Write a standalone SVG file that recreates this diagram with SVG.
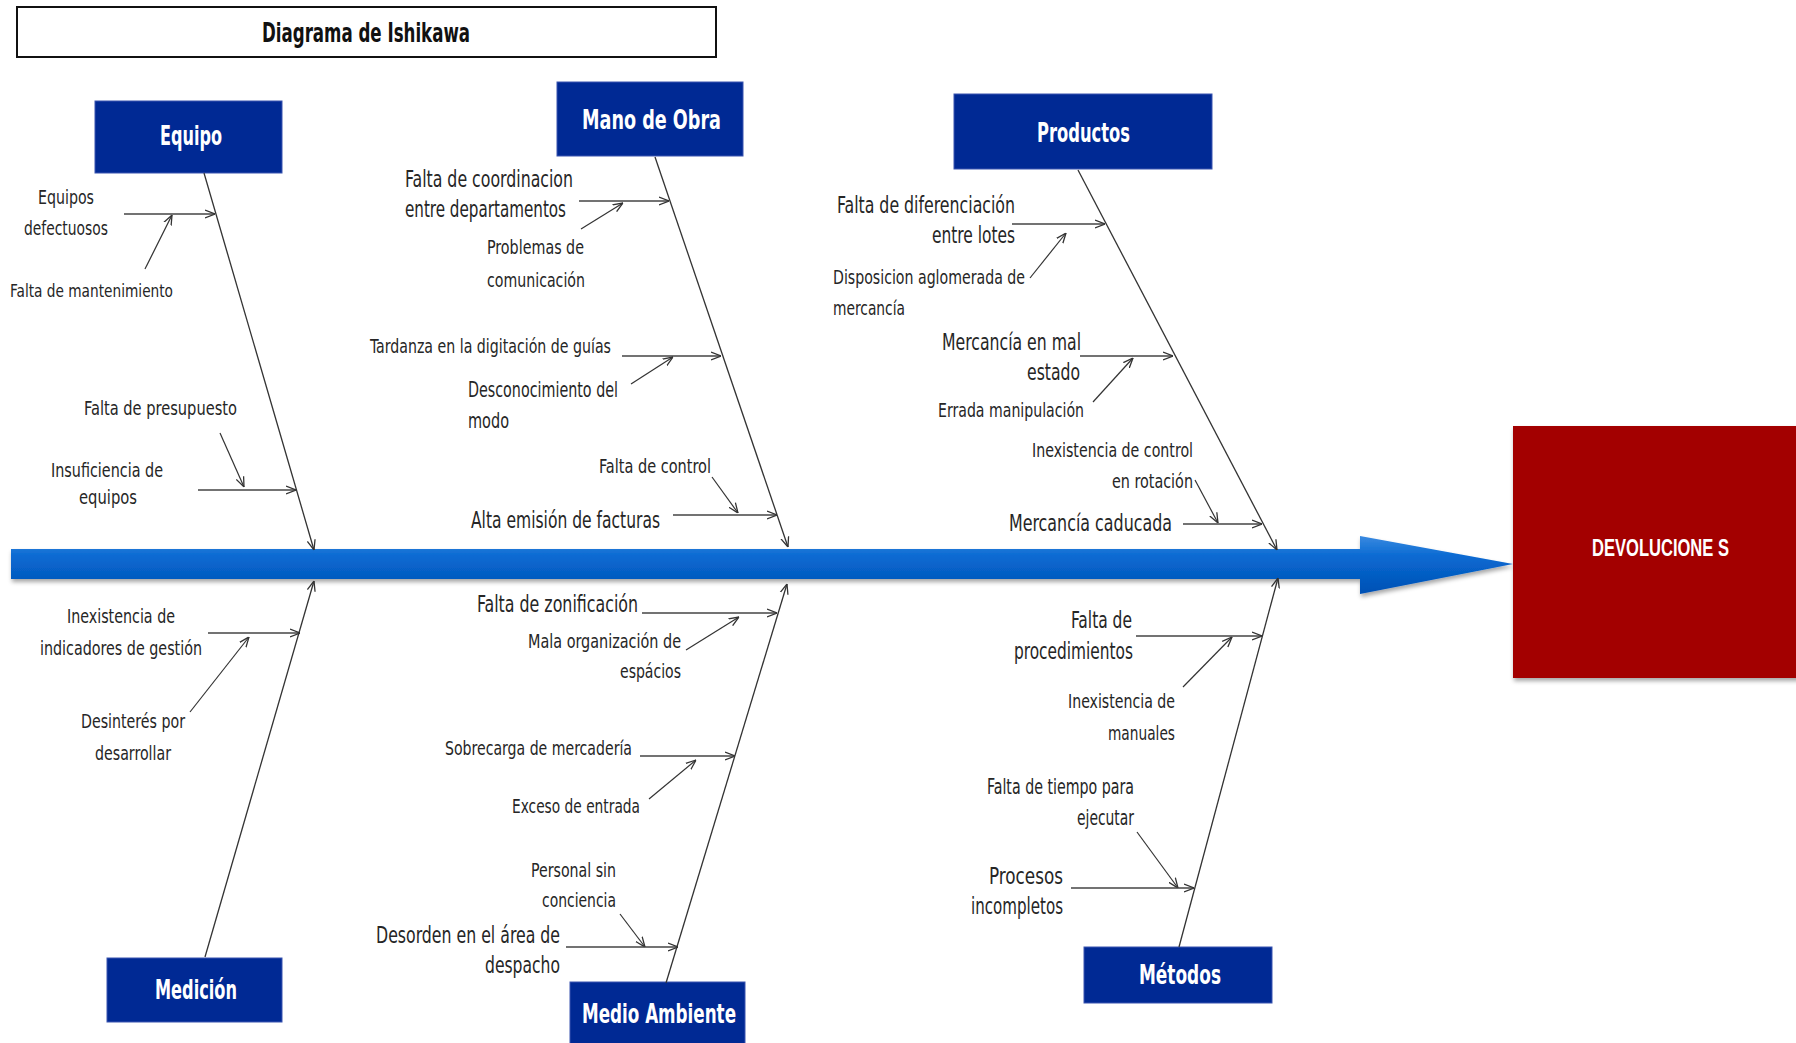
<svg xmlns="http://www.w3.org/2000/svg" width="1796" height="1043" viewBox="0 0 1796 1043">
  <defs>
    <linearGradient id="spineFill" x1="0" y1="0" x2="0" y2="1">
      <stop offset="0" stop-color="#3a8ae0"/>
      <stop offset="0.35" stop-color="#0a6ad2"/>
      <stop offset="1" stop-color="#0050b4"/>
    </linearGradient>
    <filter id="shadow" x="-5%" y="-20%" width="110%" height="150%">
      <feDropShadow dx="1" dy="3" stdDeviation="2" flood-color="#000" flood-opacity="0.35"/>
    </filter>
    <marker id="ah" viewBox="0 0 10 10" refX="10" refY="5" markerWidth="10" markerHeight="10" markerUnits="userSpaceOnUse" orient="auto">
      <path d="M0,1 L10,5 L0,9" fill="none" stroke="#333" stroke-width="1.3"/>
    </marker>
    <style>
      .cat { fill: #002994; stroke: #3a55b0; stroke-width: 1; }
      .catText { fill: #fff; font-family: "Liberation Sans Narrow", "DejaVu Sans Condensed", "Liberation Sans", sans-serif; font-weight: bold; }
      .lbl { fill: #262626; font-family: "Liberation Sans Narrow", "DejaVu Sans Condensed", "Liberation Sans", sans-serif; }
      .bone { fill: none; stroke: #333; stroke-width: 1.3; marker-end: url(#ah); }
      .sub { fill: none; stroke: #444; stroke-width: 1.5; marker-end: url(#ah); }
      .diag { fill: none; stroke: #333; stroke-width: 1.2; marker-end: url(#ah); }
    </style>
  </defs>

  <rect width="1796" height="1043" fill="#fff"/>

  <!-- title -->
  <g id="title">
    <rect x="17" y="7" width="699" height="50" fill="#fff" stroke="#111" stroke-width="2"/>
    <text x="262" y="42" font-size="26" font-weight="bold" fill="#111" font-family="Liberation Sans Narrow, DejaVu Sans Condensed, Liberation Sans, sans-serif" textLength="208" lengthAdjust="spacingAndGlyphs">Diagrama de Ishikawa</text>
  </g>

  <!-- main spine -->
  <g id="spine">
    <polygon points="11,549 1360,549 1360,536 1513,564 1360,594 1360,579 11,579" fill="url(#spineFill)" filter="url(#shadow)"/>
  </g>

  <!-- effect -->
  <g id="effect">
    <rect x="1513" y="426" width="290" height="252" fill="#a30000" filter="url(#shadow)"/>
    <text x="1592" y="556" font-size="23" font-weight="bold" fill="#fff" font-family="Liberation Sans Narrow, Liberation Sans, sans-serif" textLength="137" lengthAdjust="spacingAndGlyphs">DEVOLUCIONE S</text>
  </g>

  <!-- category boxes -->
  <g id="cat-equipo">
    <rect class="cat" x="95" y="101" width="187" height="72"/>
    <text class="catText" x="160" y="145" font-size="26" textLength="62" lengthAdjust="spacingAndGlyphs">Equipo</text>
  </g>
  <g id="cat-mano-de-obra">
    <rect class="cat" x="557" y="82" width="186" height="74"/>
    <text class="catText" x="582" y="129" font-size="27" textLength="139" lengthAdjust="spacingAndGlyphs">Mano de Obra</text>
  </g>
  <g id="cat-productos">
    <rect class="cat" x="954" y="94" width="258" height="75"/>
    <text class="catText" x="1037" y="142" font-size="26" textLength="93" lengthAdjust="spacingAndGlyphs">Productos</text>
  </g>
  <g id="cat-medicion">
    <rect class="cat" x="107" y="958" width="175" height="64"/>
    <text class="catText" x="155" y="999" font-size="26" textLength="82" lengthAdjust="spacingAndGlyphs">Medición</text>
  </g>
  <g id="cat-medio-ambiente">
    <rect class="cat" x="570" y="982" width="175" height="70"/>
    <text class="catText" x="582" y="1023" font-size="27" textLength="154" lengthAdjust="spacingAndGlyphs">Medio Ambiente</text>
  </g>
  <g id="cat-metodos">
    <rect class="cat" x="1084" y="947" width="188" height="56"/>
    <text class="catText" x="1139" y="984" font-size="26" textLength="82" lengthAdjust="spacingAndGlyphs">Métodos</text>
  </g>

  <!-- causes: Equipo -->
  <g id="causes-equipo" class="lbl">
    <text x="38" y="204" font-size="19" textLength="56" lengthAdjust="spacingAndGlyphs">Equipos</text>
    <text x="24" y="235" font-size="19" textLength="84" lengthAdjust="spacingAndGlyphs">defectuosos</text>
    <text x="10" y="297" font-size="18" textLength="163" lengthAdjust="spacingAndGlyphs">Falta de mantenimiento</text>
    <text x="84" y="415" font-size="20" textLength="153" lengthAdjust="spacingAndGlyphs">Falta de presupuesto</text>
    <text x="51" y="477" font-size="19" textLength="112" lengthAdjust="spacingAndGlyphs">Insuficiencia de</text>
    <text x="79" y="504" font-size="19" textLength="58" lengthAdjust="spacingAndGlyphs">equipos</text>
  </g>

  <!-- causes: Mano de Obra -->
  <g id="causes-mano-de-obra" class="lbl">
    <text x="405" y="187" font-size="23" textLength="168" lengthAdjust="spacingAndGlyphs">Falta de coordinacion</text>
    <text x="405" y="217" font-size="23" textLength="161" lengthAdjust="spacingAndGlyphs">entre departamentos</text>
    <text x="487" y="254" font-size="20" textLength="97" lengthAdjust="spacingAndGlyphs">Problemas de</text>
    <text x="487" y="287" font-size="20" textLength="98" lengthAdjust="spacingAndGlyphs">comunicación</text>
    <text x="370" y="353" font-size="20" textLength="241" lengthAdjust="spacingAndGlyphs">Tardanza en la digitación de guías</text>
    <text x="468" y="397" font-size="21" textLength="150" lengthAdjust="spacingAndGlyphs">Desconocimiento del</text>
    <text x="468" y="428" font-size="21" textLength="41" lengthAdjust="spacingAndGlyphs">modo</text>
    <text x="599" y="473" font-size="20" textLength="112" lengthAdjust="spacingAndGlyphs">Falta de control</text>
    <text x="471" y="528" font-size="23" textLength="189" lengthAdjust="spacingAndGlyphs">Alta emisión de facturas</text>
  </g>

  <!-- causes: Productos -->
  <g id="causes-productos" class="lbl">
    <text x="837" y="213" font-size="23" textLength="178" lengthAdjust="spacingAndGlyphs">Falta de diferenciación</text>
    <text x="932" y="243" font-size="23" textLength="83" lengthAdjust="spacingAndGlyphs">entre lotes</text>
    <text x="833" y="284" font-size="20" textLength="192" lengthAdjust="spacingAndGlyphs">Disposicion aglomerada de</text>
    <text x="833" y="315" font-size="20" textLength="72" lengthAdjust="spacingAndGlyphs">mercancía</text>
    <text x="942" y="350" font-size="23" textLength="139" lengthAdjust="spacingAndGlyphs">Mercancía en mal</text>
    <text x="1027" y="380" font-size="23" textLength="53" lengthAdjust="spacingAndGlyphs">estado</text>
    <text x="938" y="417" font-size="20" textLength="146" lengthAdjust="spacingAndGlyphs">Errada manipulación</text>
    <text x="1032" y="457" font-size="20" textLength="161" lengthAdjust="spacingAndGlyphs">Inexistencia de control</text>
    <text x="1112" y="488" font-size="20" textLength="81" lengthAdjust="spacingAndGlyphs">en rotación</text>
    <text x="1009" y="531" font-size="23" textLength="163" lengthAdjust="spacingAndGlyphs">Mercancía caducada</text>
  </g>

  <!-- causes: Medición -->
  <g id="causes-medicion" class="lbl">
    <text x="67" y="623" font-size="20" textLength="108" lengthAdjust="spacingAndGlyphs">Inexistencia de</text>
    <text x="40" y="655" font-size="20" textLength="162" lengthAdjust="spacingAndGlyphs">indicadores de gestión</text>
    <text x="81" y="728" font-size="20" textLength="104" lengthAdjust="spacingAndGlyphs">Desinterés por</text>
    <text x="95" y="760" font-size="20" textLength="76" lengthAdjust="spacingAndGlyphs">desarrollar</text>
  </g>

  <!-- causes: Medio Ambiente -->
  <g id="causes-medio-ambiente" class="lbl">
    <text x="477" y="612" font-size="23" textLength="161" lengthAdjust="spacingAndGlyphs">Falta de zonificación</text>
    <text x="528" y="648" font-size="19" textLength="153" lengthAdjust="spacingAndGlyphs">Mala organización de</text>
    <text x="620" y="678" font-size="19" textLength="61" lengthAdjust="spacingAndGlyphs">espácios</text>
    <text x="445" y="755" font-size="20" textLength="187" lengthAdjust="spacingAndGlyphs">Sobrecarga de mercadería</text>
    <text x="512" y="813" font-size="20" textLength="128" lengthAdjust="spacingAndGlyphs">Exceso de entrada</text>
    <text x="531" y="877" font-size="20" textLength="85" lengthAdjust="spacingAndGlyphs">Personal sin</text>
    <text x="542" y="907" font-size="20" textLength="74" lengthAdjust="spacingAndGlyphs">conciencia</text>
    <text x="376" y="943" font-size="23" textLength="184" lengthAdjust="spacingAndGlyphs">Desorden en el área de</text>
    <text x="485" y="973" font-size="23" textLength="75" lengthAdjust="spacingAndGlyphs">despacho</text>
  </g>

  <!-- causes: Métodos -->
  <g id="causes-metodos" class="lbl">
    <text x="1071" y="628" font-size="23" textLength="61" lengthAdjust="spacingAndGlyphs">Falta de</text>
    <text x="1014" y="659" font-size="23" textLength="119" lengthAdjust="spacingAndGlyphs">procedimientos</text>
    <text x="1068" y="708" font-size="20" textLength="107" lengthAdjust="spacingAndGlyphs">Inexistencia de</text>
    <text x="1108" y="740" font-size="20" textLength="67" lengthAdjust="spacingAndGlyphs">manuales</text>
    <text x="987" y="794" font-size="21" textLength="147" lengthAdjust="spacingAndGlyphs">Falta de tiempo para</text>
    <text x="1077" y="825" font-size="21" textLength="57" lengthAdjust="spacingAndGlyphs">ejecutar</text>
    <text x="989" y="884" font-size="23" textLength="74" lengthAdjust="spacingAndGlyphs">Procesos</text>
    <text x="971" y="914" font-size="23" textLength="92" lengthAdjust="spacingAndGlyphs">incompletos</text>
  </g>

  <!-- connectors: category bones, cause arrows and sub-cause arrows -->
  <g id="connectors">
    <path class="bone" d="M204,173 L314,550"/>
    <path class="bone" d="M655,157 L788,547"/>
    <path class="bone" d="M1078,170 L1277,550"/>
    <path class="bone" d="M205,957 L314,581"/>
    <path class="bone" d="M666,983 L787,584"/>
    <path class="bone" d="M1179,947 L1278,578"/>

    <path class="sub" d="M124,214 H215"/>
    <path class="diag" d="M145,269 L172,215"/>
    <path class="diag" d="M220,433 L244,487"/>
    <path class="sub" d="M198,490 H296"/>

    <path class="sub" d="M579,201 H669"/>
    <path class="diag" d="M581,229 L623,203"/>
    <path class="sub" d="M622,356 H721"/>
    <path class="diag" d="M631,384 L673,357"/>
    <path class="diag" d="M712,477 L738,513"/>
    <path class="sub" d="M673,515 H777"/>

    <path class="sub" d="M1012,224 H1105"/>
    <path class="diag" d="M1030,278 L1066,233"/>
    <path class="sub" d="M1080,356 H1173"/>
    <path class="diag" d="M1093,402 L1133,358"/>
    <path class="diag" d="M1195,480 L1218,523"/>
    <path class="sub" d="M1183,524 H1262"/>

    <path class="sub" d="M208,633 H300"/>
    <path class="diag" d="M190,712 L249,637"/>

    <path class="sub" d="M642,613 H777"/>
    <path class="diag" d="M686,650 L739,617"/>
    <path class="sub" d="M640,756 H735"/>
    <path class="diag" d="M649,799 L696,760"/>
    <path class="diag" d="M620,914 L645,947"/>
    <path class="sub" d="M566,947 H678"/>

    <path class="sub" d="M1136,636 H1262"/>
    <path class="diag" d="M1183,687 L1232,637"/>
    <path class="diag" d="M1137,832 L1178,888"/>
    <path class="sub" d="M1071,888 H1194"/>
  </g>
</svg>
